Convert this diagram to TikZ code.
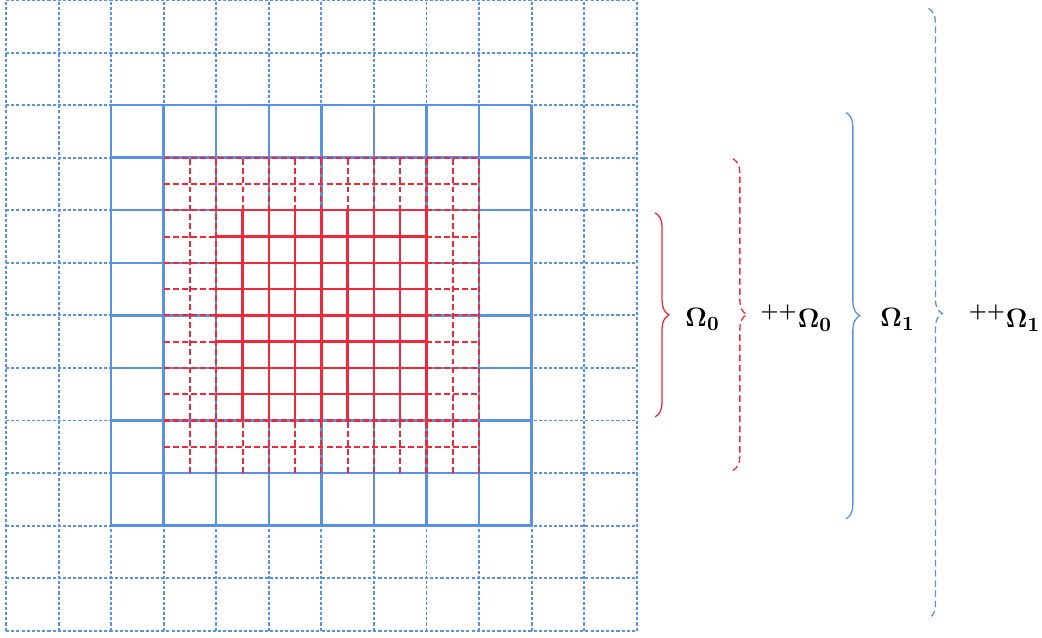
\documentclass[tikz,border=0pt]{standalone}
\usepackage{amsmath,amssymb}
\usepackage{xcolor}
\usepackage{tikz}
\usetikzlibrary{decorations.pathreplacing}

\definecolor{gridblue}{RGB}{88,145,230}
\definecolor{gridred}{RGB}{240,40,60}

\begin{document}
\begin{tikzpicture}[
    coarsedot/.style={draw=gridblue, line width=1.05pt, dash pattern=on 1.7pt off 1.1pt},
    coarse/.style={draw=gridblue, line width=1.3pt},
    finedash/.style={draw=gridred, line width=1.1pt, dash pattern=on 3.2pt off 1.7pt},
    fine/.style={draw=gridred, line width=1.3pt},
    bracebox/.style={
        decorate,
        decoration={brace, amplitude=7.5pt},
        line width=0.7pt
    },
    dashbrace/.style={bracebox, dash pattern=on 3.5pt off 2pt},
    domlabel/.style={
        anchor=west,
        inner sep=0pt,
        font=\fontsize{15.5}{18}\selectfont\boldmath
    }
]
\useasboundingbox (-0.114,-0.133) rectangle (19.71,12.0);

% outer coarse mesh and its patch
\draw[coarsedot, step=1] (0,0) grid (12,12);
\draw[coarse, step=1] (2,2) grid (10,10);

% fine mesh and its patch
\draw[finedash, step=0.5] (3,3) grid (9,9);
\draw[fine, step=0.5] (4,4) grid (8,8);

% brace ends
\coordinate (o0top) at (12.35,7.95);
\coordinate (o0bot) at (12.35,4.07);
\coordinate (e0top) at (13.83,8.98);
\coordinate (e0bot) at (13.83,3.05);
\coordinate (o1top) at (15.98,9.86);
\coordinate (o1bot) at (15.98,2.13);
\coordinate (e1top) at (17.55,11.84);
\coordinate (e1bot) at (17.55,0.23);

\draw[bracebox, gridred] (o0top) -- (o0bot);
\draw[dashbrace, gridred] (e0top) -- (e0bot);
\draw[bracebox, gridblue] (o1top) -- (o1bot);
\draw[dashbrace, gridblue] (e1top) -- (e1bot);

\node[domlabel] (omega0) at (12.92,5.92) {$\Omega_0$};
\node[domlabel] (ext0) at (14.35,5.95) {$^{++}\Omega_0$};
\node[domlabel] (omega1) at (16.63,5.92) {$\Omega_1$};
\node[domlabel] (ext1) at (18.31,5.95) {$^{++}\Omega_1$};
\end{tikzpicture}
\end{document}
